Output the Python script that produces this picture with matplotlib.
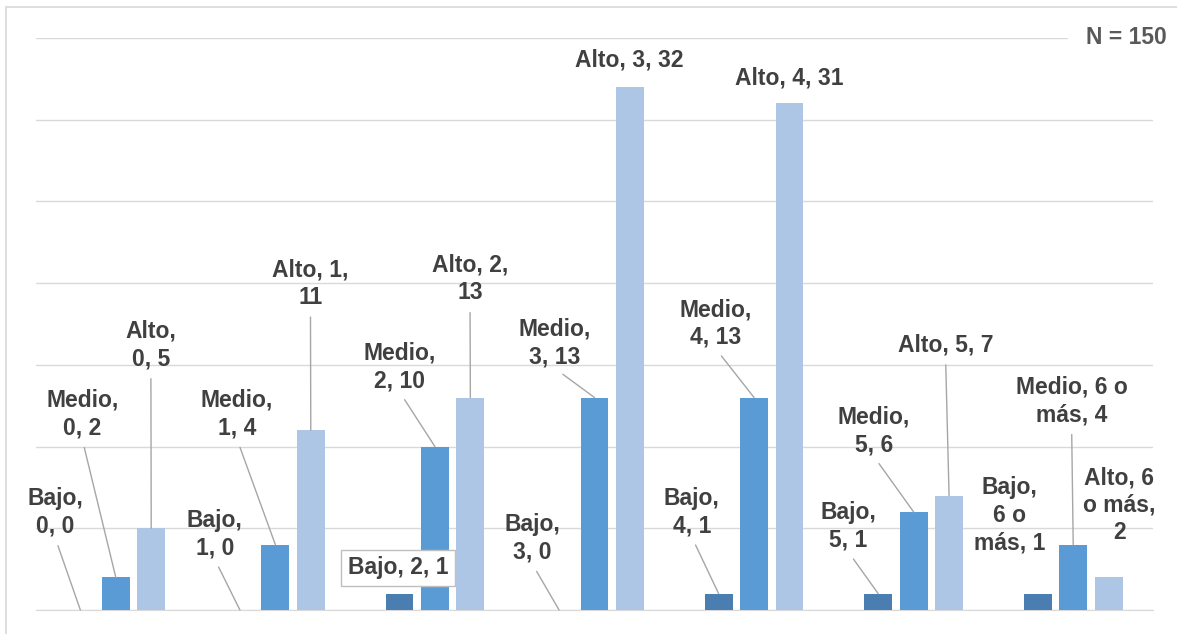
"""
plot.py - Grouped bar chart (Bajo / Medio / Alto) with Excel-style data labels
"""

import numpy as np
import matplotlib.pyplot as plt
from matplotlib.patches import Rectangle

plt.rcParams['font.family'] = ['Liberation Sans', 'DejaVu Sans']

# Data
categories = ["0", "1", "2", "3", "4", "5", "6 o más"]
series = ["Bajo", "Medio", "Alto"]
bajo = [0, 0, 1, 0, 1, 1, 1]
medio = [2, 4, 10, 13, 13, 6, 4]
alto = [5, 11, 13, 32, 31, 7, 2]
n_text = "N = 150"

colors = ['#4A7EB0', '#5B9BD5', '#ADC6E6']
TEXT = '#404040'
GRID = '#D9D9D9'
LEADER = '#A6A6A6'
FS = 16.5

# label placement (data coords of text centre), words per line, leader on/off
label_pos = {
    "Bajo":  [(-0.38, 5.97), (0.62, 4.65), (1.77, 2.57), (2.61, 4.37),
              (3.61, 6.00), (4.59, 5.11), (5.60, 5.81)],
    "Medio": [(-0.21, 11.99), (0.76, 11.99), (1.78, 14.87), (2.75, 16.34),
              (3.76, 17.53), (4.75, 10.95), (5.99, 12.79)],
    "Alto":  [(0.22, 16.21), (1.22, 19.98), (2.22, 20.25), (3.22, 33.65),
              (4.22, 32.55), (5.20, 16.21), (6.29, 6.42)],
}
label_wrap = {
    "Bajo":  [[1, 2], [1, 2], [3], [1, 2], [1, 2], [1, 2], [1, 2, 2]],
    "Medio": [[1, 2], [1, 2], [1, 2], [1, 2], [1, 2], [1, 2], [3, 2]],
    "Alto":  [[1, 2], [2, 1], [2, 1], [3], [3], [3], [2, 2, 1]],
}
label_leader = {
    "Bajo":  [True, True, False, True, True, True, False],
    "Medio": [True] * 7,
    "Alto":  [True, True, True, False, False, True, False],
}
boxed = {("Bajo", 2)}


def wrap_label(text, counts):
    words = text.split(" ")
    lines, i = [], 0
    for c in counts:
        lines.append(" ".join(words[i:i + c]))
        i += c
    return "\n".join(lines)


W, H = 1177, 634
fig = plt.figure(figsize=(W / 100, H / 100), dpi=100)
ax = fig.add_axes([36 / W, 1 - 610 / H, (1153 - 36) / W, (610 - 38) / H])

x = np.arange(len(categories))
width = 0.175
step = 0.222
values = [bajo, medio, alto]

for i, (name, vals) in enumerate(zip(series, values)):
    xs = x + (i - 1) * step
    ax.bar(xs, vals, width, color=colors[i], zorder=3, label=name)
    for j, v in enumerate(vals):
        txt = wrap_label(f"{name}, {categories[j]}, {v}", label_wrap[name][j])
        tx, ty = label_pos[name][j]
        kw = dict(ha='center', va='center', fontsize=FS, fontweight='bold',
                  color=TEXT, linespacing=1.25, zorder=5, annotation_clip=False)
        if (name, j) in boxed:
            kw['bbox'] = dict(boxstyle='square,pad=0.3', fc='white',
                              ec='#BFBFBF', lw=1)
        if label_leader[name][j]:
            kw['arrowprops'] = dict(arrowstyle='-', color=LEADER, lw=1,
                                    relpos=(0.5, 0), shrinkA=4, shrinkB=0)
        ax.annotate(txt, xy=(xs[j], v), xytext=(tx, ty), textcoords='data', **kw)

ax.set_xlim(-0.5, len(categories) - 0.5)
ax.set_ylim(0, 35)
ax.set_yticks(np.arange(0, 36, 5))
ax.yaxis.grid(True, color=GRID, lw=1, zorder=0)
ax.set_axisbelow(True)
ax.tick_params(left=False, bottom=False, labelleft=False, labelbottom=False)
for s in ['top', 'right', 'left']:
    ax.spines[s].set_visible(False)
ax.spines['bottom'].set_color(GRID)

fig.text(1167 / W, 1 - 38 / H, n_text, ha='right', va='center', fontsize=FS,
         fontweight='bold', color='#595959',
         bbox=dict(boxstyle='square,pad=0.8', fc='white', ec='none'))

# chart border (cropped at right and bottom)
border = Rectangle((6 / W, -0.05), 1.2, 1.05 - 7 / H, transform=fig.transFigure,
                   fill=False, ec=GRID, lw=1.2, zorder=10)
fig.add_artist(border)

plt.savefig("out.png", dpi=100)
plt.close()
